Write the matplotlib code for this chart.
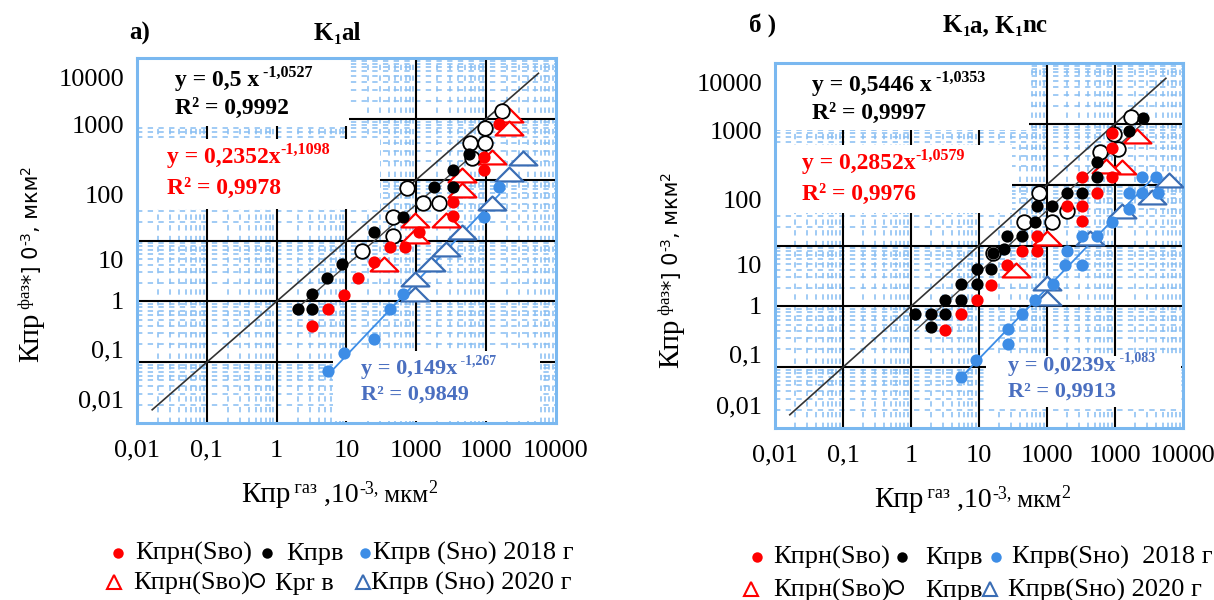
import numpy as np
import matplotlib
matplotlib.use("Agg")
import matplotlib.pyplot as plt
from matplotlib.path import Path
from matplotlib.patches import Rectangle
from matplotlib.lines import Line2D
from matplotlib.ticker import NullLocator
from matplotlib.transforms import IdentityTransform, offset_copy

plt.rcParams['font.family'] = ['Liberation Serif', 'DejaVu Sans']

# ---------------- data: panel a) K1al ----------------
a_oil18_x = [3.2, 5.5, 9.1, 14.8, 24.5, 41.7, 69, 110, 331, 331, 933, 933, 1549]
a_oil18_y = [0.40, 0.76, 1.26, 2.45, 4.4, 7.8, 7.8, 13.8, 25.7, 42.7, 145, 240, 813]
a_wat18_x = [2.0, 3.2, 3.2, 5.2, 8.7, 24.5, 64.6, 182, 331, 331, 562]
a_wat18_y = [0.76, 0.76, 1.32, 2.45, 4.1, 13.8, 24.5, 76, 76, 145, 263]
a_wso18_x = [5.5, 9.1, 24.5, 41.7, 64.6, 933, 1549]
a_wso18_y = [0.071, 0.14, 0.24, 0.76, 1.32, 24.5, 76]
a_oil20_x = [2138, 2138, 1202, 457, 457, 269, 95, 95, 33.9]
a_oil20_y = [1175, 708, 240, 120, 68, 21.4, 21.4, 12.0, 4.1]
a_wat20_x = [1660, 977, 589, 977, 631, 74, 126, 209, 45.7, 46.8, 16.6]
a_wat20_y = [1349, 708, 398, 398, 224, 72, 41, 41, 24.0, 12.0, 6.8]
a_wso20_x = [3388, 2138, 1202, 457, 269, 162, 95, 95]
a_wso20_y = [224, 126, 41, 13.8, 7.2, 4.1, 2.3, 1.32]

# ---------------- data: panel б) K1a, K1nc ----------------
b_oil18_x = [3.2, 5.5, 9.3, 15.1, 25.7, 42.7, 70.8, 70.8, 324, 195, 324, 537, 324, 891, 891, 891]
b_oil18_y = [0.41, 0.74, 1.29, 2.24, 4.7, 8.1, 8.1, 14.1, 25.7, 44.7, 44.7, 74, 135, 135, 407, 708]
b_wat18_x = [1.15, 2.0, 3.2, 2.0, 3.2, 5.5, 5.5, 9.3, 9.3, 14.8, 15.8, 23.4, 25.7, 42.7,
             67.6, 70.8, 117, 195, 324, 537, 537, 1622, 2570]
b_wat18_y = [0.76, 0.76, 0.76, 0.45, 1.29, 1.29, 2.3, 2.3, 4.1, 4.1, 7.4, 8.7, 14.1, 14.1,
             24.5, 44.7, 44.7, 74, 74, 135, 234, 776, 1259]
b_wso18_x = [5.5, 9.1, 26.9, 26.9, 42.7, 67.6, 123, 186, 324, 195, 324, 537, 891,
             1585, 1585, 2455, 4266, 2455, 4074]
b_wso18_y = [0.069, 0.129, 0.24, 0.42, 0.74, 1.29, 2.3, 4.7, 4.7, 8.1, 14.1, 14.1, 24.5,
             40, 74, 74, 74, 135, 135]
b_oil20_x = [2138, 1259, 741, 100, 34.7]
b_oil20_y = [631, 195, 204, 13.2, 3.9]
b_wat20_x = [1738, 955, 603, 1096, 76, 195, 45.7, 117, 15.8]
b_wat20_y = [1288, 692, 339, 389, 74, 37, 24.5, 24.5, 7.6]
b_wso20_x = [6310, 3467, 1259, 427, 100, 100]
b_wso20_y = [120, 62, 37, 13.2, 2.4, 1.38]

one_to_one = [0.0165, 5600]

x_tick_vals = [0.01, 0.1, 1, 10, 100, 1000, 10000]
x_tick_labels = ["0,01", "0,1", "1", "10", "1000", "1000", "10000"]
y_tick_labels = ["10000", "1000", "100", "10", "1", "0,1", "0,01"]

legend_row1_a = ["Кпрн(Sво)", "Кпрв", "Кпрв (Sно) 2018 г"]
legend_row2_a = ["Кпрн(Sво)", "Кpr в", "Кпрв (Sно) 2020 г"]
legend_row1_b = ["Кпрн(Sво)", "Кпрв", "Кпрв(Sно)  2018 г"]
legend_row2_b = ["Кпрн(Sво)", "Кпрв", "Кпрв(Sно) 2020 г"]

# ---------------- style ----------------
W, H, DPI = 1214, 600, 100
RED = '#ff0000'
BLUE_D = '#3d8de6'
BLUE_T = '#3a6db4'
BLUE_TXT = '#4a6fc0'
GRID_B = '#86bdf2'
SPINE_B = '#7ab8f0'
SERIF = 'Liberation Serif'
SANS = 'DejaVu Sans'

TRI = Path([(-1, -0.5), (1, -0.5), (0, 0.5), (-1, -0.5)],
           [Path.MOVETO, Path.LINETO, Path.LINETO, Path.CLOSEPOLY])

fig = plt.figure(figsize=(W / DPI, H / DPI), dpi=DPI, facecolor='white')
renderer = fig.canvas.get_renderer()


def px_axes(l, t, r, b):
    return fig.add_axes([l / W, 1 - b / H, (r - l) / W, (b - t) / H])


def runs(x, y, pieces, rotation=0):
    pos = 0.0
    for s, size, weight, family, color, rise in pieces:
        if rotation == 0:
            tx, ty = x + pos, H - y + rise
        else:
            tx, ty = x - rise, H - y + pos
        t = fig.text(tx, ty, s, transform=IdentityTransform(), fontsize=size,
                     fontweight=weight, family=family, color=color,
                     ha='left', va='baseline', rotation=rotation,
                     rotation_mode='anchor')
        bb = t.get_window_extent(renderer)
        pos += bb.width if rotation == 0 else bb.height


def setup(ax, geom, boxes, ylab_pos):
    l, t, r, b = geom
    ax.set_xscale('log')
    ax.set_yscale('log')
    ax.set_xlim(0.01, 10000)
    ax.set_ylim(0.01, 10000)
    minors = [k * 10.0 ** n for n in range(-2, 4) for k in range(2, 10)]
    for v in minors:
        ax.axvline(v, color=GRID_B, lw=1.1, ls=(0, (3.5, 3.5)), zorder=1)
        ax.axhline(v, color=GRID_B, lw=1.1, ls=(0, (3.5, 3.5)), zorder=1)
    for v in [0.1, 1, 10, 100, 1000]:
        ax.axvline(v, color='black', lw=1.5, zorder=1.5)
        ax.axhline(v, color='black', lw=1.5, zorder=1.5)
    ax.set_xticks(x_tick_vals, labels=x_tick_labels)
    ax.set_yticks(x_tick_vals)
    ax.set_yticklabels([])
    ax.xaxis.set_minor_locator(NullLocator())
    ax.yaxis.set_minor_locator(NullLocator())
    ax.tick_params(axis='x', which='major', direction='in', length=5, width=1.3,
                   top=True, labelsize=19, pad=12, color='black')
    ax.tick_params(axis='y', which='major', direction='in', length=9, width=1.3,
                   right=True, labelleft=False, color='black')
    for sp in ax.spines.values():
        sp.set_color(SPINE_B)
        sp.set_linewidth(2.2)
    w, h = r - l, b - t
    for (bl, bt, br, bb) in boxes:
        ax.add_patch(Rectangle(((bl - l) / w, (b - bb) / h), (br - bl) / w, (bb - bt) / h,
                               transform=ax.transAxes, facecolor='white',
                               edgecolor='none', zorder=2))
    tr = offset_copy(ax.get_yaxis_transform(), fig=fig, x=-13, y=0, units='dots')
    for lab, p in zip(y_tick_labels, ylab_pos):
        ax.text(0, 10 ** p, lab, transform=tr, ha='right', va='center',
                fontsize=19, family=SERIF)


def fit_line(ax, x, y, color, lw):
    lx, ly = np.log10(x), np.log10(y)
    k, c = np.polyfit(lx, ly, 1)
    xs = np.array([min(x), max(x)])
    ax.plot(xs, 10 ** c * xs ** k, color=color, lw=lw, zorder=2.6)


def draw_data(ax, oil18x, oil18y, wat18x, wat18y, wso18x, wso18y,
              oil20x, oil20y, wat20x, wat20y, wso20x, wso20y):
    ax.plot(one_to_one, one_to_one, color='#333333', lw=1.2, zorder=2.6)
    fit_line(ax, wat18x, wat18y, '#444444', 1.0)
    fit_line(ax, wso18x, wso18y, BLUE_D, 1.3)
    ax.plot(wso20x, wso20y, ls='none', marker=TRI, ms=20, mfc='white', mec=BLUE_T,
            mew=1.6, zorder=3)
    ax.plot(oil20x, oil20y, ls='none', marker=TRI, ms=20, mfc='white', mec=RED,
            mew=1.6, zorder=3.1)
    ax.plot(wat20x, wat20y, ls='none', marker='o', ms=10.5, mfc='white', mec='black',
            mew=1.3, zorder=3.2)
    ax.plot(wso18x, wso18y, ls='none', marker='o', ms=8.8, mfc=BLUE_D, mec='none',
            zorder=3.3)
    ax.plot(oil18x, oil18y, ls='none', marker='o', ms=8.8, mfc=RED, mec='none',
            zorder=3.4)
    ax.plot(wat18x, wat18y, ls='none', marker='o', ms=8.8, mfc='black', mec='none',
            zorder=3.5)


# ---------------- panel a ----------------
geomA = (137, 58, 556, 423)
axA = px_axes(*geomA)
setup(axA, geomA,
      [(139, 60, 349, 126), (139, 139, 380, 209), (333, 351, 540, 421)],
      [3.64, 2.86, 1.72, 0.65, -0.02, -0.83, -1.64])
draw_data(axA, a_oil18_x, a_oil18_y, a_wat18_x, a_wat18_y, a_wso18_x, a_wso18_y,
          a_oil20_x, a_oil20_y, a_wat20_x, a_wat20_y, a_wso20_x, a_wso20_y)

# ---------------- panel b ----------------
geomB = (775, 63, 1183, 428)
axB = px_axes(*geomB)
setup(axB, geomB,
      [(777, 65, 1029, 130), (777, 145, 1012, 213), (986, 356, 1181, 407)],
      [3.64, 2.85, 1.71, 0.65, -0.03, -0.83, -1.66])
draw_data(axB, b_oil18_x, b_oil18_y, b_wat18_x, b_wat18_y, b_wso18_x, b_wso18_y,
          b_oil20_x, b_oil20_y, b_wat20_x, b_wat20_y, b_wso20_x, b_wso20_y)

# ---------------- titles ----------------
runs(129, 40, [("a)", 18, 'bold', SERIF, 'black', 0)])
runs(314, 40, [("K", 18, 'bold', SERIF, 'black', 0), ("1", 11, 'bold', SERIF, 'black', -4),
               ("al", 18, 'bold', SERIF, 'black', 0)])
runs(749, 32, [("б )", 18, 'bold', SERIF, 'black', 0)])
runs(943, 32, [("K", 18, 'bold', SERIF, 'black', 0), ("1", 11, 'bold', SERIF, 'black', -4),
               ("a, K", 18, 'bold', SERIF, 'black', 0), ("1", 11, 'bold', SERIF, 'black', -4),
               ("nc", 18, 'bold', SERIF, 'black', 0)])

# ---------------- equations ----------------
def equation(x, y1, y2, main, sup, r2, color, size=17, supsize=11.5):
    runs(x, y1, [(main, size, 'bold', SERIF, color, 0),
                 (sup, supsize, 'bold', SERIF, color, 9)])
    runs(x, y2, [(r2, size, 'bold', SERIF, color, 0)])


equation(175, 86, 114, "y = 0,5 x", " -1,0527", "R² = 0,9992", 'black')
equation(167, 163, 194, "y = 0,2352x", "-1,1098", "R² = 0,9978", RED)
equation(361, 374, 400, "y = 0,149x", " -1,267", "R² = 0,9849", BLUE_TXT, 16, 10)
equation(812, 91, 119, "y = 0,5446 x", " -1,0353", "R² = 0,9997", 'black')
equation(802, 169, 200, "y = 0,2852x", "-1,0579", "R² = 0,9976", RED)
equation(1008, 371, 397, "y = 0,0239x", " -1,083", "R² = 0,9913", BLUE_TXT, 16, 10)

# ---------------- axis labels ----------------
def xlabel(x, y):
    runs(x, y, [("Кпр", 21, 'normal', SERIF, 'black', 0),
                (" газ", 13, 'normal', SERIF, 'black', 9),
                (" ,10", 20, 'normal', SERIF, 'black', 0),
                ("-3,", 13, 'normal', SERIF, 'black', 9),
                (" мкм", 18, 'normal', SERIF, 'black', 0),
                ("2", 13, 'normal', SERIF, 'black', 9)])


def ylabel(x, y):
    runs(x, y, [("Кпр", 21, 'normal', SERIF, 'black', 0),
                (" фаз", 12, 'normal', SERIF, 'black', 8),
                ("*] 0", 15, 'normal', SANS, 'black', 0),
                ("-3", 10, 'normal', SANS, 'black', 8),
                (", мкм", 15, 'normal', SANS, 'black', 0),
                ("2", 10, 'normal', SANS, 'black', 8)], rotation=90)


xlabel(241, 502)
xlabel(874, 507)
ylabel(38, 362)
ylabel(678, 368)

# ---------------- legends ----------------
def mark(x, y, **kw):
    fig.add_artist(Line2D([x], [H - y], transform=IdentityTransform(), ls='none', **kw))


def leg_text(x, y, s):
    fig.text(x, H - y, s, transform=IdentityTransform(), fontsize=19, family=SERIF,
             ha='left', va='baseline')


dot = lambda c: dict(marker='o', ms=7.5, mfc=c, mec='none')
tri = lambda c: dict(marker='^', ms=10, mfc='none', mec=c, mew=1.5)
circ = dict(marker='o', ms=9.5, mfc='none', mec='black', mew=1.3)

# panel a legend
mark(118, 553, **dot(RED)); leg_text(135, 560, legend_row1_a[0])
mark(267, 553, **dot('black')); leg_text(286, 560, legend_row1_a[1])
mark(365, 553, **dot(BLUE_D)); leg_text(373, 560, legend_row1_a[2])
mark(114, 582, **tri(RED)); leg_text(133, 590, legend_row2_a[0])
mark(257, 580, **circ); leg_text(275, 590, legend_row2_a[1])
mark(363, 582, **tri(BLUE_T)); leg_text(371, 590, legend_row2_a[2])

# panel b legend
mark(757, 557, **dot(RED)); leg_text(773, 564, legend_row1_b[0])
mark(902, 557, **dot('black')); leg_text(925, 564, legend_row1_b[1])
mark(996, 557, **dot(BLUE_D)); leg_text(1012, 564, legend_row1_b[2])
mark(751, 589, **tri(RED)); leg_text(773, 597, legend_row2_b[0])
mark(896, 587, **circ); leg_text(925, 597, legend_row2_b[1])
mark(990, 589, **tri(BLUE_T)); leg_text(1008, 597, legend_row2_b[2])

fig.savefig("out.png", dpi=DPI, facecolor='white')
